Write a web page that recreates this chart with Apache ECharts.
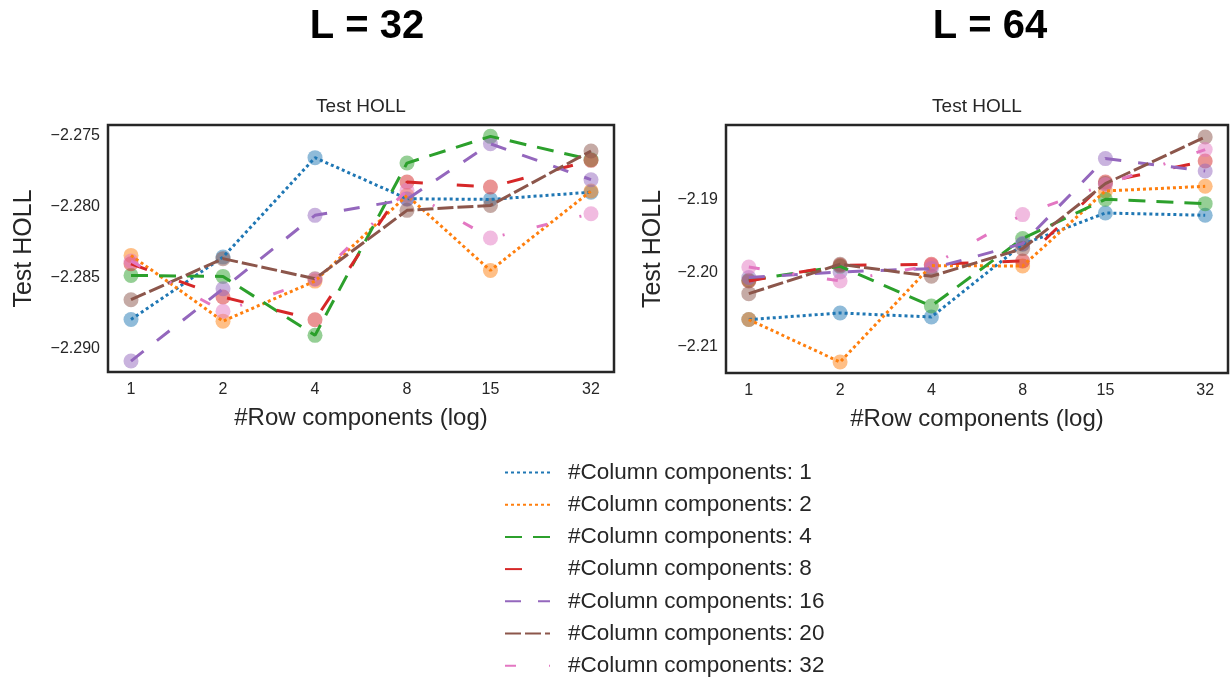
<!DOCTYPE html>
<html>
<head>
<meta charset="utf-8">
<script src="https://cdn.jsdelivr.net/npm/echarts@6/dist/echarts.min.js"></script>
<style>
  html, body { margin: 0; padding: 0; background: #ffffff; }
  #chart { width: 1230px; height: 677px; }
</style>
</head>
<body>
<div id="chart"></div>
<script>
// Row components on the (log) x axis
const rowComponents = [1, 2, 4, 8, 15, 32];
// Column component counts, one line per count
const columnComponents = [1, 2, 4, 8, 16, 20, 32];

// Y tick labels
const yTicksL32 = [-2.290, -2.285, -2.280, -2.275];
const yTicksL64 = [-2.21, -2.20, -2.19];

// Test HOLL, L = 32
const hollL32_c1  = [-2.28796, -2.28357, -2.27657, -2.27946, -2.27951, -2.27900];
const hollL32_c2  = [-2.28345, -2.28808, -2.28526, -2.27923, -2.28451, -2.27892];
const hollL32_c4  = [-2.28486, -2.28493, -2.28908, -2.27695, -2.27507, -2.27671];
const hollL32_c8  = [-2.28404, -2.28638, -2.28798, -2.27829, -2.27864, -2.27676];
const hollL32_c16 = [-2.29089, -2.28580, -2.28063, -2.27950, -2.27559, -2.27812];
const hollL32_c20 = [-2.28657, -2.28368, -2.28509, -2.28028, -2.27993, -2.27610];
const hollL32_c32 = [-2.28385, -2.28739, -2.28515, -2.27887, -2.28223, -2.28052];

// Test HOLL, L = 64
const hollL64_c1  = [-2.20632, -2.20543, -2.20597, -2.19611, -2.19186, -2.19217];
const hollL64_c2  = [-2.20632, -2.21208, -2.19900, -2.19905, -2.18887, -2.18824];
const hollL64_c4  = [-2.20099, -2.19910, -2.20448, -2.19533, -2.19000, -2.19059];
const hollL64_c8  = [-2.20108, -2.19896, -2.19882, -2.19837, -2.18765, -2.18480];
const hollL64_c16 = [-2.20062, -2.19986, -2.19940, -2.19601, -2.18448, -2.18616];
const hollL64_c20 = [-2.20280, -2.19882, -2.20045, -2.19669, -2.18787, -2.18155];
const hollL64_c32 = [-2.19919, -2.20108, -2.19900, -2.19208, -2.18800, -2.18326];

const panelL32 = [hollL32_c1, hollL32_c2, hollL32_c4, hollL32_c8, hollL32_c16, hollL32_c20, hollL32_c32];
const panelL64 = [hollL64_c1, hollL64_c2, hollL64_c4, hollL64_c8, hollL64_c16, hollL64_c20, hollL64_c32];

const colors = ['#1f77b4', '#ff7f0e', '#2ca02c', '#d62728', '#9467bd', '#8c564b', '#e377c2'];
const dashes = [
  [3, 3],
  [3, 3],
  [17, 11],
  [17, 34],
  [16, 17],
  [16, 4],
  [11, 33, 2, 33]
];

const FONT = '"Liberation Sans", Arial, Helvetica, sans-serif';
const TEXT = '#262626';

const chart = echarts.init(document.getElementById('chart'), null, { renderer: 'canvas' });

const legendNames = columnComponents.map(c => '#Column components: ' + c);

function pairs(values) {
  return rowComponents.map((x, i) => [x, values[i]]);
}

const series = [];
[panelL32, panelL64].forEach((panel, gi) => {
  panel.forEach((values, si) => {
    series.push({
      name: 'pts-' + gi + '-' + si,
      type: 'scatter',
      xAxisIndex: gi,
      yAxisIndex: gi,
      data: pairs(values),
      symbol: 'circle',
      symbolSize: 15,
      itemStyle: { color: colors[si], opacity: 0.5 },
      emphasis: { disabled: true },
      z: 2,
      silent: true
    });
  });
});
[panelL32, panelL64].forEach((panel, gi) => {
  panel.forEach((values, si) => {
    series.push({
      name: legendNames[si],
      type: 'line',
      xAxisIndex: gi,
      yAxisIndex: gi,
      data: pairs(values),
      symbol: 'none',
      lineStyle: { color: colors[si], width: 3, type: dashes[si], cap: 'butt' },
      itemStyle: { color: colors[si] },
      emphasis: { disabled: true },
      z: 3,
      silent: true
    });
  });
});

function xAxisFor(gi) {
  return {
    type: 'log',
    logBase: 2,
    gridIndex: gi,
    min: Math.pow(2, -0.25),
    max: 32 * Math.pow(2, 0.25),
    name: '#Row components (log)',
    nameLocation: 'middle',
    nameGap: 34,
    nameTextStyle: { fontFamily: FONT, fontSize: 24, color: TEXT },
    axisLine: { show: false },
    axisTick: { show: false },
    splitLine: { show: false },
    minorTick: { show: false },
    axisLabel: {
      customValues: rowComponents,
      formatter: v => String(Math.round(v)),
      fontFamily: FONT, fontSize: 16, color: TEXT, margin: 10
    }
  };
}

function yAxisFor(gi, ticks, lo, hi, digits, gap) {
  return {
    type: 'value',
    gridIndex: gi,
    min: lo,
    max: hi,
    name: 'Test HOLL',
    nameLocation: 'middle',
    nameGap: gap,
    nameRotate: 90,
    nameTextStyle: { fontFamily: FONT, fontSize: 25, color: TEXT },
    axisLine: { show: false },
    axisTick: { show: false },
    splitLine: { show: false },
    axisLabel: {
      customValues: ticks,
      formatter: v => '\u2212' + Math.abs(v).toFixed(digits),
      fontFamily: FONT, fontSize: 16, color: TEXT, margin: 8
    }
  };
}

const option = {
  backgroundColor: '#ffffff',
  animation: false,
  title: [
    { text: 'L = 32', left: 367, top: 7, textAlign: 'center', padding: 0,
      textStyle: { fontFamily: FONT, fontSize: 40, fontWeight: 'bold', color: '#000' } },
    { text: 'L = 64', left: 990, top: 7, textAlign: 'center', padding: 0,
      textStyle: { fontFamily: FONT, fontSize: 40, fontWeight: 'bold', color: '#000' } },
    { text: 'Test HOLL', left: 361, top: 97, textAlign: 'center', padding: 0,
      textStyle: { fontFamily: FONT, fontSize: 19, fontWeight: 'normal', color: TEXT } },
    { text: 'Test HOLL', left: 977, top: 97, textAlign: 'center', padding: 0,
      textStyle: { fontFamily: FONT, fontSize: 19, fontWeight: 'normal', color: TEXT } }
  ],
  grid: [
    { left: 108, top: 125, width: 506, height: 247, show: true,
      borderColor: '#262626', borderWidth: 2.5, backgroundColor: 'transparent', containLabel: false },
    { left: 726, top: 125, width: 502, height: 248, show: true,
      borderColor: '#262626', borderWidth: 2.5, backgroundColor: 'transparent', containLabel: false }
  ],
  xAxis: [xAxisFor(0), xAxisFor(1)],
  yAxis: [
    yAxisFor(0, yTicksL32, -2.29166, -2.27427, 3, 71),
    yAxisFor(1, yTicksL64, -2.21357, -2.17992, 2, 60)
  ],
  legend: {
    data: legendNames,
    orient: 'vertical',
    left: 504,
    top: 461,
    height: 240,
    padding: 0,
    itemWidth: 45,
    itemHeight: 22,
    itemGap: 9.2,
    selectedMode: false,
    itemStyle: { opacity: 0 },
    textStyle: { fontFamily: FONT, fontSize: 22.5, lineHeight: 22, color: TEXT, padding: [0, 0, 0, 13] }
  },
  series: series
};

chart.setOption(option);
</script>
</body>
</html>
